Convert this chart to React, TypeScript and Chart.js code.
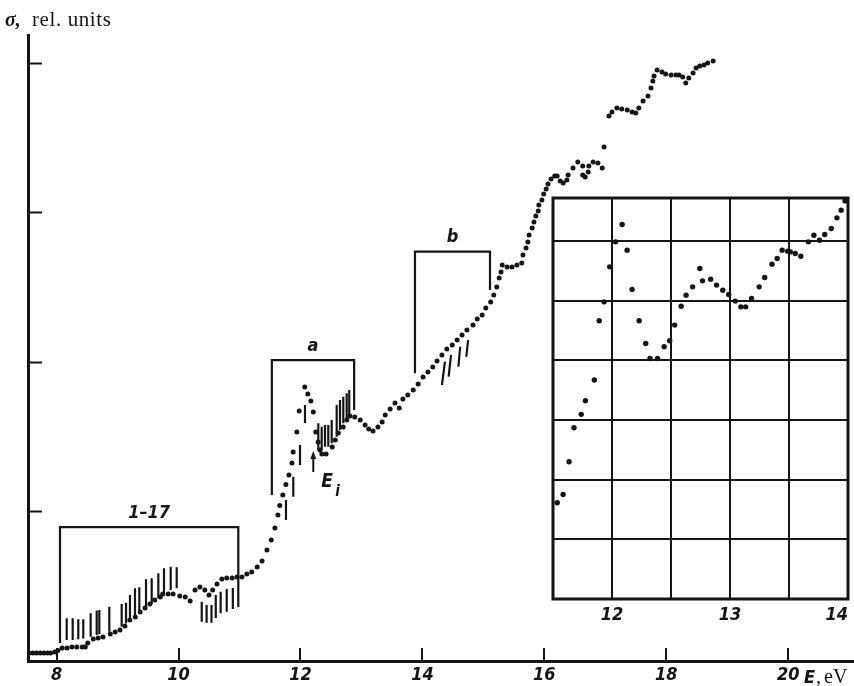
import React, { useEffect, useRef } from "react";
import { Chart, registerables } from "chart.js";

Chart.register(...registerables);

// ---- measured cross-section (dotted curve), energy in eV, σ in relative units ----
const energy = [
  7.55, 7.61, 7.67, 7.73, 7.79, 7.85, 7.9, 7.97, 8.02, 8.09, 8.17, 8.25, 8.33, 8.42, 8.47, 8.51, 8.6, 8.68, 8.76,
  8.88, 8.96, 9.04, 9.12, 9.2, 9.29, 9.37, 9.45, 9.53, 9.61, 9.7, 9.74, 9.83, 9.91, 10.02, 10.11, 10.19, 10.27,
  10.35, 10.43, 10.5, 10.56, 10.63, 10.71, 10.79, 10.88, 10.96, 11.04, 11.12, 11.2, 11.29, 11.37, 11.45, 11.52,
  11.58, 11.63, 11.66, 11.71, 11.76, 11.81, 11.86, 11.88, 11.94, 11.98, 12.07, 12.12, 12.17, 12.21, 12.25, 12.29,
  12.32, 12.35, 12.42, 12.52, 12.57, 12.62, 12.7, 12.76, 12.81, 12.89, 12.98, 13.06, 13.12, 13.19, 13.27, 13.34,
  13.39, 13.47, 13.55, 13.62, 13.68, 13.76, 13.85, 13.93, 14.01, 14.09, 14.17, 14.24, 14.32, 14.4, 14.49, 14.57,
  14.65, 14.73, 14.83, 14.9, 14.98, 15.04, 15.12, 15.17, 15.22, 15.26, 15.29, 15.31, 15.39, 15.47, 15.55, 15.63,
  15.65, 15.7, 15.73, 15.75, 15.8, 15.83, 15.86, 15.9, 15.91, 15.96, 15.99, 16.03, 16.06, 16.11, 16.17, 16.21,
  16.26, 16.31, 16.37, 16.39, 16.47, 16.55, 16.63, 16.63, 16.67, 16.72, 16.73, 16.8, 16.88, 16.95, 16.98, 17.06,
  17.11, 17.19, 17.27, 17.36, 17.44, 17.5, 17.55, 17.62, 17.7, 17.75, 17.78, 17.8, 17.85, 17.93, 17.99, 18.08,
  18.16, 18.21, 18.27, 18.32, 18.37, 18.44, 18.49, 18.55, 18.62, 18.68, 18.77,
];
const sigma = [
  0.053, 0.053, 0.053, 0.053, 0.053, 0.053, 0.053, 0.06, 0.07, 0.087, 0.087, 0.094, 0.094, 0.094, 0.094, 0.12,
  0.147, 0.154, 0.16, 0.18, 0.194, 0.207, 0.234, 0.274, 0.294, 0.328, 0.355, 0.381, 0.408, 0.428, 0.448, 0.448,
  0.448, 0.435, 0.428, 0.401, 0.475, 0.495, 0.475, 0.441, 0.475, 0.515, 0.548, 0.555, 0.555, 0.562, 0.562, 0.582,
  0.595, 0.629, 0.669, 0.742, 0.809, 0.89, 0.977, 1.04, 1.11, 1.18, 1.244, 1.324, 1.398, 1.532, 1.672, 1.833,
  1.786, 1.739, 1.666, 1.532, 1.465, 1.411, 1.385, 1.385, 1.431, 1.478, 1.525, 1.565, 1.612, 1.639, 1.632, 1.612,
  1.579, 1.552, 1.538, 1.565, 1.599, 1.645, 1.686, 1.726, 1.692, 1.753, 1.779, 1.813, 1.853, 1.9, 1.933, 1.967,
  2.007, 2.047, 2.087, 2.114, 2.147, 2.181, 2.214, 2.247, 2.288, 2.314, 2.361, 2.401, 2.448, 2.502, 2.562, 2.602,
  2.649, 2.635, 2.635, 2.649, 2.662, 2.716, 2.763, 2.803, 2.849, 2.896, 2.936, 2.977, 3.01, 3.05, 3.084, 3.124,
  3.157, 3.191, 3.224, 3.244, 3.244, 3.211, 3.197, 3.217, 3.251, 3.298, 3.338, 3.311, 3.251, 3.237, 3.271, 3.311,
  3.338, 3.331, 3.298, 3.438, 3.645, 3.672, 3.699, 3.692, 3.686, 3.672, 3.666, 3.699, 3.746, 3.779, 3.833, 3.88,
  3.913, 3.953, 3.94, 3.926, 3.92, 3.92, 3.92, 3.906, 3.866, 3.9, 3.933, 3.967, 3.98, 3.987, 4.0, 4.013,
];

// ---- spread of individual runs: vertical strokes (energy at lower / upper end, σ range) ----
const spread117E = [
  8.165, 8.263, 8.355, 8.437, 8.558, 8.657, 8.7, 8.864, 9.067, 9.138, 9.203, 9.285, 9.356, 9.466, 9.559, 9.668,
  9.761, 9.871, 9.969, 10.38, 10.46, 10.54, 10.61, 10.69, 10.79, 10.89,
];
const spread117Lo = [
  0.14, 0.14, 0.145, 0.151, 0.163, 0.174, 0.181, 0.196, 0.229, 0.252, 0.274, 0.308, 0.319, 0.363, 0.381, 0.419,
  0.453, 0.475, 0.486, 0.263, 0.256, 0.256, 0.288, 0.319, 0.33, 0.348,
];
const spread117Hi = [
  0.286, 0.286, 0.279, 0.279, 0.319, 0.337, 0.341, 0.363, 0.381, 0.39, 0.441, 0.486, 0.493, 0.546, 0.553, 0.587,
  0.62, 0.631, 0.627, 0.397, 0.375, 0.375, 0.441, 0.464, 0.482, 0.488,
];
const spreadAE = [11.762, 11.882, 11.992, 12.074, 12.292, 12.348, 12.402, 12.456, 12.512, 12.594, 12.648, 12.702, 12.758, 12.8];
const spreadALo = [0.943, 1.099, 1.311, 1.592, 1.411, 1.411, 1.433, 1.433, 1.456, 1.5, 1.545, 1.59, 1.612, 1.645];
const spreadAHi = [1.077, 1.233, 1.445, 1.712, 1.59, 1.567, 1.579, 1.579, 1.612, 1.712, 1.746, 1.768, 1.791, 1.813];
const spreadBELow = [14.32, 14.43, 14.59, 14.72];
const spreadBEHigh = [14.37, 14.47, 14.62, 14.75];
const spreadBLo = [1.846, 1.902, 1.969, 2.035];
const spreadBHi = [2.002, 2.047, 2.102, 2.147];

// ---- brackets marking the energy ranges of the series ----
const bracketNames = ["1–17", "a", "b"];
const bracketLeft = [8.055, 11.53, 13.878];
const bracketRight = [10.98, 12.88, 15.109];
const bracketTop = [0.896, 2.013, 2.738];
const bracketLeftFoot = [0.12, 1.11, 1.924];
const bracketRightFoot = [0.361, 1.679, 2.482];

// ionisation threshold marker
const thresholdE = 12.21;
const thresholdFrom = 1.264;
const thresholdTo = 1.405;

// axis ticks
const xTicks = [8, 10, 12, 14, 16, 18, 20];
const yTicks = [1, 2, 3, 4];

// ---- inset: region a on an expanded scale ----
const insetEnergy = [
  11.536, 11.586, 11.636, 11.678, 11.739, 11.775, 11.85, 11.892, 11.933, 11.98, 12.03, 12.086, 12.128, 12.17, 12.23,
  12.286, 12.322, 12.386, 12.442, 12.489, 12.531, 12.586, 12.628, 12.683, 12.744, 12.767, 12.836, 12.886, 12.939,
  12.989, 13.044, 13.092, 13.133, 13.183, 13.247, 13.294, 13.356, 13.4, 13.442, 13.489, 13.511, 13.553, 13.6,
  13.664, 13.711, 13.758, 13.803, 13.858, 13.906, 13.942, 13.975,
];
const insetSigma = [
  1.613, 1.753, 2.3, 2.869, 3.094, 3.322, 3.669, 4.662, 4.98, 5.566, 5.985, 6.276, 5.846, 5.188, 4.662, 4.283, 4.031,
  4.031, 4.226, 4.327, 4.59, 4.907, 5.092, 5.231, 5.539, 5.332, 5.36, 5.26, 5.176, 5.103, 4.992, 4.896, 4.896,
  5.037, 5.231, 5.388, 5.611, 5.707, 5.846, 5.829, 5.817, 5.79, 5.745, 5.985, 6.097, 6.013, 6.109, 6.209, 6.387,
  6.516, 6.671,
];
const insetXTicks = [11.5, 12, 12.5, 13, 13.5, 14];
const insetYTicks = [0, 1, 2, 3, 4, 5, 6];

const INK = "#151515";
const LABEL_FONT = "'DejaVu Sans Condensed', 'Liberation Sans Narrow', 'DejaVu Sans', sans-serif";
const SERIF = "'Liberation Serif', 'DejaVu Serif', serif";

type Pt = { x: number; y: number | null };

const points = (xs: number[], ys: number[]): Pt[] => xs.map((x, i) => ({ x, y: ys[i] }));

const strokes = (xLow: number[], xHigh: number[], lo: number[], hi: number[]): Pt[] => {
  const out: Pt[] = [];
  xLow.forEach((x, i) => {
    out.push({ x, y: lo[i] }, { x: xHigh[i], y: hi[i] }, { x: xHigh[i], y: null });
  });
  return out;
};

const bracketPath = (): Pt[] => {
  const out: Pt[] = [];
  bracketNames.forEach((_, i) => {
    out.push(
      { x: bracketLeft[i], y: bracketLeftFoot[i] },
      { x: bracketLeft[i], y: bracketTop[i] },
      { x: bracketRight[i], y: bracketTop[i] },
      { x: bracketRight[i], y: bracketRightFoot[i] },
      { x: bracketRight[i], y: null }
    );
  });
  return out;
};

const mainDecor = {
  id: "mainDecor",
  afterDraw(chart: any) {
    const { ctx, chartArea: a, scales } = chart;
    const x = scales.x;
    const y = scales.y;
    ctx.save();
    ctx.strokeStyle = INK;
    ctx.fillStyle = INK;
    ctx.lineWidth = 2;

    // inward tick marks
    yTicks.forEach((v) => {
      const py = Math.round(y.getPixelForValue(v)) + 0.5;
      ctx.beginPath();
      ctx.moveTo(a.left, py);
      ctx.lineTo(a.left + 14, py);
      ctx.stroke();
    });
    xTicks.forEach((v) => {
      const px = Math.round(x.getPixelForValue(v));
      ctx.beginPath();
      ctx.moveTo(px, a.bottom);
      ctx.lineTo(px, a.bottom - 13);
      ctx.stroke();
    });

    // bracket captions
    ctx.font = `italic bold 18px ${LABEL_FONT}`;
    ctx.textAlign = "center";
    ctx.textBaseline = "middle";
    bracketNames.forEach((t, i) => {
      const cx = x.getPixelForValue((bracketLeft[i] + bracketRight[i]) / 2);
      const cy = y.getPixelForValue(bracketTop[i]) - 14;
      ctx.fillText(t, cx, cy);
    });

    // threshold arrow and E_i caption
    const ax = x.getPixelForValue(thresholdE);
    const ay0 = y.getPixelForValue(thresholdFrom);
    const ay1 = y.getPixelForValue(thresholdTo);
    ctx.lineWidth = 2;
    ctx.beginPath();
    ctx.moveTo(ax, ay0);
    ctx.lineTo(ax, ay1 + 4);
    ctx.stroke();
    ctx.beginPath();
    ctx.moveTo(ax, ay1);
    ctx.lineTo(ax - 3, ay1 + 8);
    ctx.lineTo(ax + 3, ay1 + 8);
    ctx.closePath();
    ctx.fill();

    ctx.textAlign = "left";
    ctx.textBaseline = "alphabetic";
    ctx.font = `italic bold 19px ${LABEL_FONT}`;
    ctx.fillText("E", ax + 8, ay0 + 15);
    ctx.font = `italic bold 15px ${LABEL_FONT}`;
    ctx.fillText("i", ax + 22, ay0 + 24);

    // axis titles
    ctx.font = `italic bold 20px ${SERIF}`;
    ctx.fillText("σ,", 5, 26);
    ctx.font = `21px ${SERIF}`;
    (ctx as any).letterSpacing = "0.6px";
    ctx.fillText("rel. units", 32, 26);
    (ctx as any).letterSpacing = "0px";

    ctx.font = `italic bold 18px ${LABEL_FONT}`;
    ctx.fillText("E", a.right - 50, 683);
    ctx.font = `20px ${SERIF}`;
    ctx.fillText(",", a.right - 38, 683);
    ctx.fillText("eV", a.right - 30, 683);
    ctx.restore();
  },
};

const insetDecor = {
  id: "insetDecor",
  beforeDraw(chart: any) {
    const { ctx, chartArea: a } = chart;
    ctx.save();
    ctx.fillStyle = "#ffffff";
    ctx.fillRect(a.left, a.top, a.right - a.left, a.bottom - a.top);
    ctx.restore();
  },
  beforeDatasetsDraw(chart: any) {
    const { ctx, chartArea: a } = chart;
    ctx.save();
    ctx.strokeStyle = INK;
    ctx.lineWidth = 3;
    ctx.strokeRect(a.left, a.top, a.right - a.left, a.bottom - a.top);
    ctx.restore();
  },
};

export default function App() {
  const mainRef = useRef<HTMLCanvasElement | null>(null);
  const insetRef = useRef<HTMLCanvasElement | null>(null);

  useEffect(() => {
    if (!mainRef.current || !insetRef.current) return;

    const main = new Chart(mainRef.current, {
      type: "scatter",
      data: {
        datasets: [
          {
            label: "spread",
            data: [
              ...strokes(spread117E, spread117E, spread117Lo, spread117Hi),
              ...strokes(spreadAE, spreadAE, spreadALo, spreadAHi),
              ...strokes(spreadBELow, spreadBEHigh, spreadBLo, spreadBHi),
            ],
            showLine: true,
            spanGaps: false,
            borderColor: INK,
            borderWidth: 2.2,
            pointRadius: 0,
          },
          {
            label: "ranges",
            data: bracketPath(),
            showLine: true,
            spanGaps: false,
            borderColor: INK,
            borderWidth: 2.2,
            pointRadius: 0,
          },
          {
            label: "σ",
            data: points(energy, sigma),
            showLine: false,
            pointRadius: 2.5,
            pointBorderWidth: 0,
            pointBackgroundColor: INK,
          },
        ],
      } as any,
      options: {
        animation: false,
        responsive: false,
        events: [],
        layout: { padding: { left: 28, top: 35, right: 0, bottom: 0 }, autoPadding: false },
        plugins: { legend: { display: false }, tooltip: { enabled: false } },
        scales: {
          x: {
            type: "linear",
            min: 7.53,
            max: 21.08,
            afterFit: (s: any) => {
              s.height = 25;
            },
            afterBuildTicks: (s: any) => {
              s.ticks = xTicks.map((v) => ({ value: v }));
            },
            grid: { display: false },
            border: { display: true, color: INK, width: 3 },
            ticks: {
              color: INK,
              padding: -4,
              maxRotation: 0,
              autoSkip: false,
              font: { family: LABEL_FONT, size: 18, style: "italic", weight: "bold" },
            },
          },
          y: {
            type: "linear",
            min: 0,
            max: 4.187,
            afterFit: (s: any) => {
              s.width = 0;
            },
            grid: { display: false },
            border: { display: true, color: INK, width: 3 },
            ticks: { display: false },
          },
        },
      } as any,
      plugins: [mainDecor],
    });

    const inset = new Chart(insetRef.current, {
      type: "scatter",
      data: {
        datasets: [
          {
            label: "σ (expanded)",
            data: points(insetEnergy, insetSigma),
            pointRadius: 2.7,
            pointBorderWidth: 0,
            pointBackgroundColor: INK,
          },
        ],
      },
      options: {
        animation: false,
        responsive: false,
        events: [],
        layout: { padding: { left: 13, top: 8, right: 1, bottom: 0 }, autoPadding: false },
        plugins: { legend: { display: false }, tooltip: { enabled: false } },
        scales: {
          x: {
            type: "linear",
            min: 11.5,
            max: 14,
            afterFit: (s: any) => {
              s.height = 31;
            },
            afterBuildTicks: (s: any) => {
              s.ticks = insetXTicks.map((v) => ({ value: v }));
            },
            grid: { display: true, color: INK, lineWidth: 2, drawTicks: false },
            border: { display: false },
            ticks: {
              color: INK,
              padding: 6,
              maxRotation: 0,
              autoSkip: false,
              align: "inner",
              callback: (v: any) => (Number.isInteger(Number(v)) ? String(v) : ""),
              font: { family: LABEL_FONT, size: 18, style: "italic", weight: "bold" },
            },
          },
          y: {
            type: "linear",
            min: 0,
            max: 6.72,
            afterFit: (s: any) => {
              s.width = 0;
            },
            afterBuildTicks: (s: any) => {
              s.ticks = insetYTicks.map((v) => ({ value: v }));
            },
            grid: { display: true, color: INK, lineWidth: 2, drawTicks: false },
            border: { display: false },
            ticks: { display: false },
          },
        },
      } as any,
      plugins: [insetDecor],
    });

    return () => {
      main.destroy();
      inset.destroy();
    };
  }, []);

  return (
    <div style={{ position: "absolute", left: 0, top: 0, width: 854, height: 686, background: "#fff" }}>
      <canvas
        ref={mainRef}
        width={854}
        height={686}
        style={{ position: "absolute", left: 0, top: 0, width: 854, height: 686 }}
      />
      <canvas
        ref={insetRef}
        width={314}
        height={440}
        style={{ position: "absolute", left: 540, top: 190, width: 314, height: 440 }}
      />
    </div>
  );
}
